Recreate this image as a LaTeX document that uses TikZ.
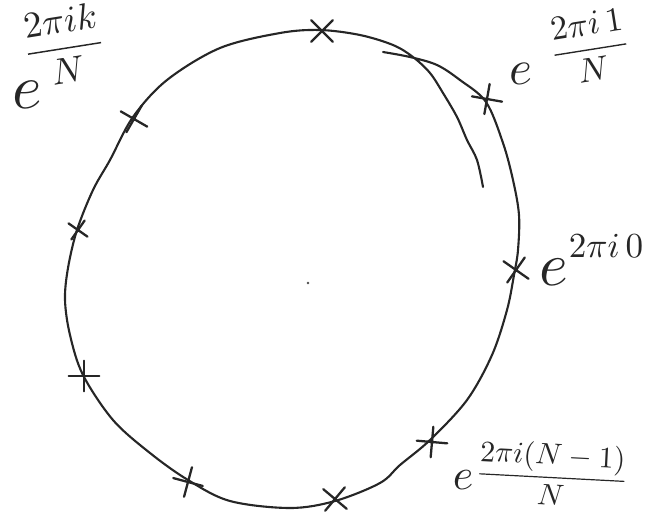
\documentclass[tikz,border=0pt]{standalone}
\usetikzlibrary{shapes.misc}
\begin{document}
\begin{tikzpicture}[x=0.02cm,y=-0.02cm,
  ink/.style={draw=black!85, line width=1.2pt, line cap=round, line join=round},
  crossmark/.style={cross out, draw=black!85, line width=1.3pt, minimum size=11pt, inner sep=0pt, line cap=round},
  lbl/.style={text=black!85, inner sep=0pt}]
\useasboundingbox (0,0) rectangle (649,515);
% hand-drawn circle (open stroke, overlapping at the top right)
\draw[ink] plot[smooth, tension=0.55] coordinates {
 (383,52) (410,57) (437,65) (460,80) (486,102) (503,143) (513,180) (519,215)
 (518,250) (514,275) (507,310) (492,355) (467,400) (430,440) (400,465) (380,483)
 (335,501) (290,508) (230,501) (188,480) (150,453) (113,420) (83,375) (70,335)
 (65,300) (68,268) (77,230) (93,190) (110,160) (133,117) (167,80) (220,48)
 (280,33) (320,30) (360,35) (393,45) (413,57) (430,73) (443,93) (457,117)
 (467,140) (477,160) (483,187)};
% centre dot
\fill[black!70] (308,283) circle (1.4);
% crosses on the circle
\node[crossmark, rotate=0]  (c0) at (322,31) {};
\node[crossmark, rotate=35] (c1) at (487,99) {};
\node[crossmark, rotate=15] (c2) at (134,119) {};
\node[crossmark, rotate=10, minimum size=8pt] (c3) at (78,230) {};
\node[crossmark, rotate=45] (c4) at (84,376) {};
\node[crossmark, rotate=30] (c5) at (188,482) {};
\node[crossmark, rotate=5]  (c6) at (335,499) {};
\node[crossmark, rotate=40] (c7) at (432,442) {};
\node[crossmark, rotate=10] (c8) at (516,270) {};
% labels
\node[lbl, scale=3.6] (e1) at (27,95) {$e$};
\node[lbl, scale=2.1, rotate=9] (f1) at (64,45) {$\displaystyle\frac{2\pi i k}{N}$};
\node[lbl, scale=2.8] (e2) at (521,74) {$e$};
\node[lbl, scale=1.95, rotate=9] (f2) at (590,47) {$\displaystyle\frac{2\pi i\,1}{N}$};
\node[lbl, scale=3.5] (e3) at (554,272) {$e$};
\node[lbl, scale=2.0] (s3) at (606,246) {$2\pi i\,0$};
\node[lbl, scale=2.5] (e4) at (463,480) {$e$};
\node[lbl, scale=1.7, rotate=-3] (f4) at (552,474) {$\displaystyle\frac{2\pi i(N-1)}{N}$};
\end{tikzpicture}
\end{document}
